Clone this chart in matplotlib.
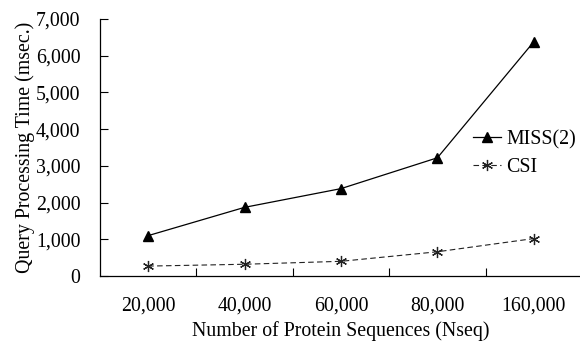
import numpy as np
import matplotlib.pyplot as plt

plt.rcParams['font.family'] = ['Liberation Serif', 'DejaVu Serif']

nseq = ['20,000', '40,000', '60,000', '80,000', '160,000']
miss2 = [1100, 1870, 2380, 3220, 6380]
csi = [270, 320, 400, 660, 1020]

fs = 14.3

fig = plt.figure(figsize=(5.8, 3.42), dpi=100)
ax = fig.add_axes([100/580, 1 - 276/342, 482/580, 257/342])

x = np.arange(len(nseq))
ax.plot(x, miss2, '-', color='black', lw=0.9, marker='^', ms=6.5,
        label='MISS(2)')
ax.plot(x, csi, color='#222222', lw=0.8, marker=(6, 2, 0), ms=8,
        mew=0.9, ls=(0, (5, 3)), label='CSI')

ax.set_xlim(-0.5, len(nseq) - 0.5)
ax.set_ylim(0, 7000)
ax.set_yticks(np.arange(0, 7001, 1000))
ax.set_yticklabels(['{:,}'.format(v) for v in range(0, 7001, 1000)])
ax.set_xticks(x)
ax.set_xticklabels(nseq)
ax.set_xticks(np.arange(0.5, len(nseq) - 0.5, 1), minor=True)

ax.tick_params(axis='x', which='major', length=0, pad=15, labelsize=fs)
ax.tick_params(axis='x', which='minor', direction='in', length=6, width=0.8)
ax.tick_params(axis='y', direction='in', length=6, width=0.8, pad=14,
               labelsize=fs)

for s in ['top', 'right']:
    ax.spines[s].set_visible(False)
for s in ['left', 'bottom']:
    ax.spines[s].set_linewidth(0.9)

ax.set_xlabel('Number of Protein Sequences (Nseq)', fontsize=fs, labelpad=4)
ax.set_ylabel('Query Processing Time (msec.)', fontsize=fs, labelpad=1)

ax.legend(loc='upper left', bbox_to_anchor=(0.757, 0.60),
          frameon=False, fontsize=fs, handlelength=1.4, handletextpad=0.3,
          labelspacing=0.45, borderaxespad=0)

fig.savefig('out.png', dpi=100)
